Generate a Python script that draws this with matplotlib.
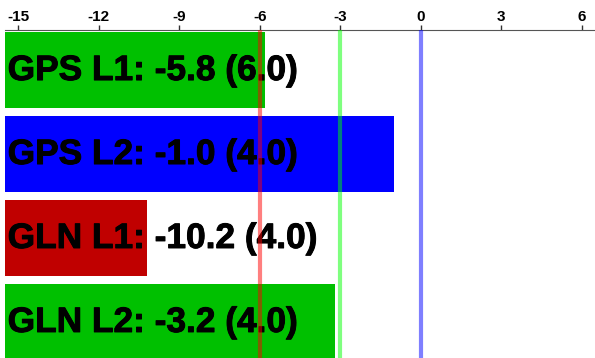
import matplotlib.pyplot as plt, numpy as np
import matplotlib.patheffects as pe

labels = ["GPS L1", "GPS L2", "GLN L1", "GLN L2"]
values = [-5.8, -1.0, -10.2, -3.2]
extra = [6.0, 4.0, 4.0, 4.0]
colors = ["#00c000", "#0000ff", "#c00000", "#00c000"]
ref_x = [-6, -3, 0]
ref_colors = ["#ff0000", "#00ff00", "#0000ff"]
x_min, x_max = -15.5, 6.5

plt.rcParams["font.family"] = ["Liberation Sans", "DejaVu Sans"]
plt.rcParams["font.weight"] = "bold"
plt.rcParams["axes.unicode_minus"] = False

fig = plt.figure(figsize=(5.95, 3.58), dpi=100)
ax = fig.add_axes([5 / 595, 0, 590 / 595, 328 / 358])

y = np.arange(len(labels))
ax.barh(y, np.array(values) - x_min, left=x_min, height=0.905, color=colors)
for i in range(len(labels)):
    ax.text(x_min + 0.1, y[i] + 0.12, "%s: %.1f (%.1f)" % (labels[i], values[i], extra[i]),
            fontsize=25.4, fontweight="bold", va="baseline", ha="left", zorder=3,
            path_effects=[pe.withStroke(linewidth=0.7, foreground="black")])
for xv, c in zip(ref_x, ref_colors):
    ax.axvline(xv, color=c, alpha=0.5, lw=3, zorder=4)

ax.set_xlim(x_min, x_max)
ax.set_ylim(3.43, -0.476)
ax.set_xticks(np.arange(-15, 7, 3))
ax.xaxis.tick_top()
ax.tick_params(axis="x", length=3.5, width=1, labelsize=11, pad=1, color="#333333")
for t in ax.get_xticklabels():
    t.set_fontweight("bold")
ax.set_yticks([])
for s in ["left", "right", "bottom"]:
    ax.spines[s].set_visible(False)
ax.spines["top"].set_color("#555555")

fig.savefig("out.png")
